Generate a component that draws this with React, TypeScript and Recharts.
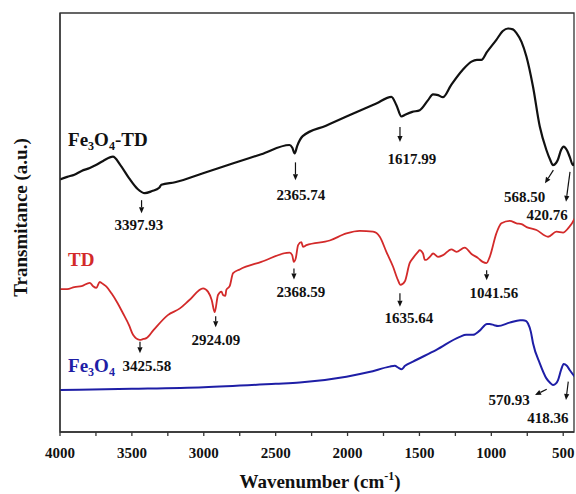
import React from 'react';
import { LineChart, Line, XAxis, YAxis, ReferenceArea, ReferenceDot, Label } from 'recharts';

// FTIR spectra: wavenumber (cm^-1) and transmittance (a.u., offset per sample)
const fe3o4TdWave = [4000, 3950, 3900, 3850, 3793, 3750, 3700, 3632, 3580, 3520, 3460, 3410, 3360, 3310, 3295, 3200, 3000, 2800, 2600, 2404, 2385, 2368, 2350, 2312, 2150, 2000, 1800, 1695, 1660, 1625, 1600, 1550, 1498, 1440, 1406, 1370, 1337, 1280, 1200, 1138, 1100, 1069, 1030, 965, 920, 884, 850, 825, 790, 756, 710, 663, 617, 590, 571, 550, 538, 515, 497, 475, 455, 432, 420, 410];
const fe3o4TdT = [60.3, 60.9, 61.4, 62.3, 63.0, 63.7, 64.7, 65.7, 63.7, 60.6, 58.0, 57.0, 57.5, 58.3, 59.0, 59.6, 61.8, 64.1, 66.3, 68.5, 67.9, 66.5, 68.3, 70.6, 73.1, 75.4, 78.4, 80.0, 78.0, 75.3, 75.7, 76.4, 76.8, 79.2, 80.6, 80.4, 79.9, 82.8, 86.4, 88.4, 88.8, 88.8, 90.7, 93.6, 95.7, 96.3, 96.1, 95.2, 93.1, 89.6, 82.4, 72.9, 67.3, 64.9, 63.7, 64.2, 64.9, 67.3, 68.1, 67.3, 65.7, 63.7, 64.4, 66.1];

const tdWave = [4000, 3950, 3900, 3850, 3793, 3770, 3747, 3724, 3700, 3677, 3642, 3600, 3563, 3520, 3492, 3446, 3420, 3399, 3350, 3250, 3166, 3100, 3005, 2971, 2945, 2924, 2901, 2877, 2866, 2850, 2843, 2820, 2796, 2750, 2600, 2403, 2385, 2374, 2360, 2344, 2321, 2310, 2286, 2124, 2008, 1915, 1823, 1776, 1730, 1684, 1650, 1632, 1602, 1568, 1545, 1510, 1499, 1475, 1463, 1452, 1428, 1405, 1371, 1336, 1278, 1243, 1185, 1138, 1092, 1060, 1034, 1011, 965, 930, 872, 825, 790, 755, 686, 605, 547, 501, 466, 420, 410];
const tdT = [34.1, 34.1, 34.6, 34.8, 35.6, 34.8, 34.4, 35.8, 35.3, 34.7, 33.1, 30.8, 28.4, 25.5, 23.2, 22.0, 22.2, 22.4, 24.3, 27.9, 29.5, 31.5, 34.3, 33.5, 31.5, 28.6, 32.7, 33.5, 32.7, 32.5, 33.9, 34.8, 37.9, 38.8, 40.6, 42.8, 42.2, 40.6, 41.5, 44.6, 45.3, 44.2, 44.6, 45.7, 47.4, 48.0, 47.8, 46.6, 43.0, 39.5, 36.3, 35.1, 35.9, 40.3, 41.5, 43.0, 43.4, 42.6, 41.1, 41.1, 41.8, 42.6, 41.8, 42.2, 43.6, 43.0, 44.0, 42.5, 41.5, 40.6, 40.3, 41.8, 47.4, 49.8, 50.4, 49.8, 49.6, 48.9, 48.2, 46.6, 47.8, 47.6, 48.6, 51.0, 51.8];

const fe3o4Wave = [4000, 3500, 3000, 2500, 2333, 2008, 1850, 1707, 1672, 1645, 1625, 1600, 1545, 1382, 1220, 1175, 1127, 1081, 1030, 1012, 980, 954, 873, 800, 780, 760, 745, 725, 710, 663, 617, 590, 571, 550, 536, 515, 497, 475, 455, 420, 410];
const fe3o4T = [10.0, 10.3, 10.7, 11.5, 11.8, 13.2, 14.3, 15.6, 15.8, 15.3, 15.0, 15.8, 16.8, 19.6, 22.7, 23.2, 23.2, 24.2, 25.8, 25.8, 25.5, 25.3, 26.1, 26.7, 26.7, 26.5, 25.9, 23.9, 21.2, 16.4, 12.8, 11.7, 11.2, 11.6, 12.4, 14.8, 16.2, 15.8, 14.8, 13.2, 12.8];

const xTicks = [4000, 3750, 3500, 3250, 3000, 2750, 2500, 2250, 2000, 1750, 1500, 1250, 1000, 750, 500];

// Assigned bands and the transmittance at each band
const peakWave = [3397.93, 2365.74, 1617.99, 568.5, 420.76, 3425.58, 2924.09, 2368.59, 1635.64, 1041.56, 570.93, 418.36];
const peakT = [57.0, 66.5, 75.3, 63.7, 63.7, 22.0, 28.6, 40.6, 35.1, 40.3, 11.2, 13.2];

// Series names and where they sit in data space
const seriesWave = [3944, 3944, 3944];
const seriesT = [68.3, 39.6, 14.4];

const FONT = '"Liberation Serif", "Times New Roman", Times, serif';
const INK = '#111';

// Arrow and label offsets (px) relative to each band point
const peakLayout = [
  { a: [-5, 7, -5, 20], t: [-7.6, 37] },
  { a: [0.5, 9, 0.5, 27], t: [6, 47] },
  { a: [-2.5, 10.5, -2.5, 25.5], t: [9.5, 47.5] },
  { a: [0, 5, -8.4, 18.2], t: [-28.7, 36.6] },
  { a: [-4.6, 6.7, -8.6, 36.7], t: [-27.6, 55] },
  { a: [-2.6, 2, -2.6, 13.5], t: [4.4, 31] },
  { a: [1, 4, 1, 15], t: [1.3, 32.8] },
  { a: [-0.6, 6.5, -0.6, 17.5], t: [6.4, 35.6] },
  { a: [0, 8.4, 0, 21.8], t: [9, 38] },
  { a: [1.3, 7, 1.3, 17], t: [8.6, 34.4] },
  { a: [-6.3, 4.2, -18, 9.9], t: [-44, 20] },
  { a: [-6.7, 5, -9, 23.3], t: [-27, 46.3] },
];

const zip = (w: number[], t: number[]) => w.map((x, i) => ({ w: x, t: t[i] }));

const fe3o4TdData = zip(fe3o4TdWave, fe3o4TdT);
const tdData = zip(tdWave, tdT);
const fe3o4Data = zip(fe3o4Wave, fe3o4T);

function Arrow({ x1, y1, x2, y2 }: { x1: number; y1: number; x2: number; y2: number }) {
  const ang = Math.atan2(y2 - y1, x2 - x1);
  const L = 6;
  const W = 2.6;
  const bx = x2 - L * Math.cos(ang);
  const by = y2 - L * Math.sin(ang);
  const px = -Math.sin(ang) * W;
  const py = Math.cos(ang) * W;
  return (
    <g>
      <line x1={x1} y1={y1} x2={bx} y2={by} stroke={INK} strokeWidth={1.2} />
      <polygon points={`${x2},${y2} ${bx + px},${by + py} ${bx - px},${by - py}`} fill={INK} />
    </g>
  );
}

function peakShape(i: number) {
  return (p: any) => {
    const { cx, cy } = p;
    const { a, t } = peakLayout[i];
    return (
      <g>
        <Arrow x1={cx + a[0]} y1={cy + a[1]} x2={cx + a[2]} y2={cy + a[3]} />
        <text x={cx + t[0]} y={cy + t[1]} textAnchor="middle" fontFamily={FONT} fontWeight="bold" fontSize={15} fill={INK}>
          {peakWave[i].toFixed(2)}
        </text>
      </g>
    );
  };
}

const subStyle = { fontSize: 12 };

const seriesLabels = [
  () => (
    <>
      Fe<tspan dy={4} style={subStyle}>3</tspan>
      <tspan dy={-4}>O</tspan>
      <tspan dy={4} style={subStyle}>4</tspan>
      <tspan dy={-4}>-TD</tspan>
    </>
  ),
  () => <>TD</>,
  () => (
    <>
      Fe<tspan dy={4} style={subStyle}>3</tspan>
      <tspan dy={-4}>O</tspan>
      <tspan dy={4} style={subStyle}>4</tspan>
    </>
  ),
];
const seriesColors = ['#111111', '#d32a2a', '#1e1ea6'];

function seriesShape(i: number) {
  return (p: any) => (
    <text x={p.cx} y={p.cy} textAnchor="start" fontFamily={FONT} fontWeight="bold" fontSize={19} fill={seriesColors[i]}>
      {seriesLabels[i]()}
    </text>
  );
}

function XTitle(props: any) {
  const vb = props.viewBox || { x: 60, y: 432, width: 514, height: 62 };
  const cx = vb.x + vb.width / 2 + 3;
  const y = vb.y + 56;
  return (
    <text x={cx} y={y} textAnchor="middle" fontFamily={FONT} fontWeight="bold" fontSize={19} fill={INK}>
      Wavenumber (cm<tspan dy={-8} fontSize={12}>-1</tspan>
      <tspan dy={8}>)</tspan>
    </text>
  );
}

function YTitle(props: any) {
  const vb = props.viewBox || { x: 0, y: 13, width: 60, height: 419 };
  const cx = 20;
  const cy = vb.y + vb.height / 2 - 5;
  return (
    <text
      x={cx}
      y={cy}
      transform={`rotate(-90 ${cx} ${cy})`}
      textAnchor="middle"
      dominantBaseline="central"
      fontFamily={FONT}
      fontWeight="bold"
      fontSize={19}
      fill={INK}
    >
      Transmitance (a.u.)
    </text>
  );
}

export default function App() {
  return (
    <div style={{ position: 'fixed', left: 0, top: 0, width: 576, height: 494, background: '#fff' }}>
      <LineChart width={576} height={494} margin={{ top: 13, right: 2, bottom: 0, left: 0 }}>
        <XAxis
          type="number"
          dataKey="w"
          domain={[425, 4000]}
          reversed
          allowDataOverflow
          ticks={xTicks}
          interval={0}
          tickSize={4}
          tickMargin={11}
          tickFormatter={(v: number) => (v % 500 === 0 ? String(v) : '')}
          axisLine={{ stroke: '#333', strokeWidth: 1.3 }}
          tickLine={{ stroke: '#333', strokeWidth: 1.3 }}
          tick={{ fill: INK, fontSize: 15, fontWeight: 'bold', fontFamily: FONT }}
          height={62}
        >
          <Label content={XTitle} />
        </XAxis>
        <YAxis
          type="number"
          domain={[0, 100]}
          tick={false}
          tickLine={false}
          axisLine={{ stroke: '#333', strokeWidth: 1.3 }}
          width={60}
        >
          <Label content={YTitle} />
        </YAxis>
        <ReferenceArea x1={425} x2={4000} y1={0} y2={100} fill="none" stroke="#333" strokeWidth={1.3} ifOverflow="visible" />
        <Line data={fe3o4Data} dataKey="t" type="monotone" stroke={seriesColors[2]} strokeWidth={2} dot={false} isAnimationActive={false} />
        <Line data={tdData} dataKey="t" type="monotone" stroke={seriesColors[1]} strokeWidth={1.8} dot={false} isAnimationActive={false} />
        <Line data={fe3o4TdData} dataKey="t" type="monotone" stroke={seriesColors[0]} strokeWidth={2.2} dot={false} isAnimationActive={false} />
        {peakWave.map((w, i) => (
          <ReferenceDot key={`p${i}`} x={w} y={peakT[i]} r={0} ifOverflow="visible" shape={peakShape(i)} />
        ))}
        {seriesWave.map((w, i) => (
          <ReferenceDot key={`s${i}`} x={w} y={seriesT[i]} r={0} ifOverflow="visible" shape={seriesShape(i)} />
        ))}
      </LineChart>
    </div>
  );
}
